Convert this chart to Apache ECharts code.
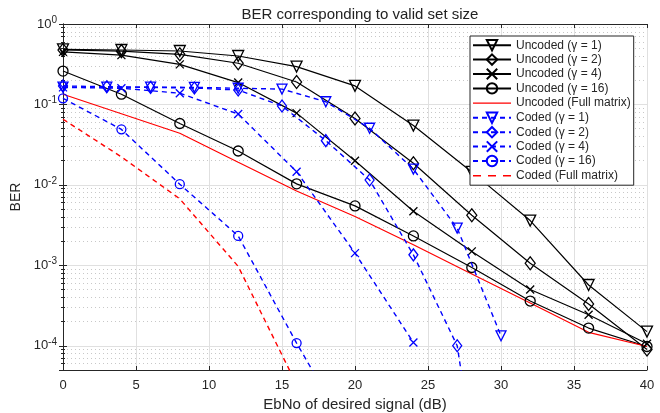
<!DOCTYPE html>
<html>
<head>
<meta charset="utf-8">
<script src="https://cdn.jsdelivr.net/npm/echarts@6/dist/echarts.min.js"></script>
<style>
  html, body { margin: 0; padding: 0; background: #fff; }
  #chart { width: 660px; height: 413px; }
</style>
</head>
<body>
<div id="chart"></div>
<script>
// x positions (dB)
var ebnoStep4 = [0, 4, 8, 12, 16, 20, 24, 28, 32, 36, 40];
var ebnoStep3 = [0, 3, 6, 9, 12, 15, 18, 21, 24, 27, 30];

// uncoded BER
var uncodedG1 = [0.485, 0.475, 0.462, 0.40, 0.295, 0.17, 0.0546, 0.0145, 0.0036, 5.7e-4, 1.5e-4];
var uncodedG2 = [0.475, 0.46, 0.42, 0.325, 0.19, 0.067, 0.0186, 0.0042, 0.00106, 3.3e-4, 9e-5];
var uncodedG4 = [0.45, 0.41, 0.315, 0.187, 0.078, 0.020, 0.0047, 0.00149, 5e-4, 2.43e-4, 1.06e-4];
var uncodedG16 = [0.26, 0.134, 0.058, 0.0264, 0.0103, 0.00548, 0.00232, 9.4e-4, 3.6e-4, 1.66e-4, 9.8e-5];
var uncodedFull = [0.134, 0.0767, 0.0439, 0.0191, 0.0084, 0.00404, 0.0018, 7.8e-4, 3.4e-4, 1.47e-4, 9.8e-5];

// coded BER
var codedG1 = [0.164, 0.164, 0.164, 0.163, 0.159, 0.155, 0.108, 0.0506, 0.0157, 0.0029, 1.33e-4];
var codedG2 = [0.17, 0.166, 0.163, 0.16, 0.151, 0.0958, 0.0355, 0.0115, 0.00135, 1.0e-4, 3e-8];
var codedG4 = [0.163, 0.159, 0.138, 0.076, 0.0146, 0.00142, 1.1e-4];
var codedG16 = [0.119, 0.049, 0.0102, 0.00232, 1.08e-4, 6e-6];
var codedFull = [0.0655, 0.0223, 0.0067, 0.00097, 3.3e-5];

var names = [
  'Uncoded (\u03b3 = 1)', 'Uncoded (\u03b3 = 2)', 'Uncoded (\u03b3 = 4)', 'Uncoded (\u03b3 = 16)',
  'Uncoded (Full matrix)',
  'Coded (\u03b3 = 1)', 'Coded (\u03b3 = 2)', 'Coded (\u03b3 = 4)', 'Coded (\u03b3 = 16)',
  'Coded (Full matrix)'
];

var crossPath = 'path://M0,0L10,10M10,0L0,10';
var dash = [5, 4];
var fontName = 'Liberation Sans';
var axisColor = '#262626';

// legend icons for the plain lines (tiny corner specks keep the box 38x13)
var specks = 'M0,0L0.01,0L0,0.01Z M38,13L37.99,13L38,12.99Z ';
var solidIcon = 'path://' + specks + 'M0,5.8L38,5.8L38,7.2L0,7.2Z';
var dashIcon = 'path://' + specks + 'M0,5.8L8,5.8L8,7.2L0,7.2Z M15,5.8L23,5.8L23,7.2L15,7.2Z M30,5.8L38,5.8L38,7.2L30,7.2Z';

function pts(xs, ys) {
  return ys.map(function (y, i) { return [xs[i], y]; });
}

function mk(name, xs, ys, color, dashed, symbol, size, rotate) {
  return {
    name: name,
    type: 'line',
    data: pts(xs, ys),
    symbol: symbol || 'none',
    symbolSize: size || 8,
    symbolRotate: rotate || 0,
    showSymbol: !!symbol,
    clip: true,
    z: dashed ? 3 : 2,
    lineStyle: { color: color, width: dashed ? 1.4 : 1.2, type: dashed ? dash : 'solid' },
    itemStyle: symbol ? { color: 'rgba(0,0,0,0)', borderColor: color, borderWidth: 1.3 } : { color: color },
    emphasis: { disabled: true },
    animation: false
  };
}

function yLabel(v) {
  var l = Math.log10(v);
  var e = Math.round(l);
  if (Math.abs(l - e) > 1e-6) return '';
  return '{b|10}{s|' + e + '}';
}

var legendData = names.map(function (n, i) {
  if (i === 4) return { name: n, icon: solidIcon, itemStyle: { color: '#ff0000', borderWidth: 0 } };
  if (i === 9) return { name: n, icon: dashIcon, itemStyle: { color: '#ff0000', borderWidth: 0 } };
  return { name: n };
});

var myChart = echarts.init(document.getElementById('chart'));

myChart.setOption({
  animation: false,
  title: {
    text: 'BER corresponding to valid set size',
    left: 355, top: 2, textAlign: 'center',
    textStyle: { fontFamily: fontName, fontSize: 15, fontWeight: 'normal', color: '#222' }
  },
  grid: { left: 63, right: 13, top: 24, bottom: 43, outerBoundsMode: 'none', containLabel: false },
  legend: {
    orient: 'vertical',
    left: 470, top: 36,
    padding: [3, 3, 3, 2],
    itemWidth: 38, itemHeight: 13, itemGap: 2,
    backgroundColor: '#fff',
    borderColor: '#262626', borderWidth: 1, borderRadius: 0,
    selectedMode: false,
    textStyle: { fontFamily: fontName, fontSize: 12, color: '#262626' },
    data: legendData
  },
  xAxis: [{
    type: 'value', min: 0, max: 40, interval: 5,
    name: 'EbNo of desired signal (dB)', nameLocation: 'middle', nameGap: 26,
    nameTextStyle: { fontFamily: fontName, fontSize: 15, color: axisColor },
    axisLine: { lineStyle: { color: axisColor, width: 1 } },
    axisTick: { inside: true, length: 4, lineStyle: { color: axisColor } },
    axisLabel: { margin: 9, fontFamily: fontName, fontSize: 13, color: axisColor },
    splitLine: { show: true, lineStyle: { color: '#e0e0e0', width: 1 } }
  }, {
    type: 'value', min: 0, max: 40, interval: 5, position: 'top',
    axisLine: { show: true, onZero: false, lineStyle: { color: axisColor, width: 1 } },
    axisTick: { inside: true, length: 4, lineStyle: { color: axisColor } },
    axisLabel: { show: false },
    splitLine: { show: false }
  }],
  yAxis: [{
    type: 'log', logBase: 10, min: 5e-5, max: 1,
    name: 'BER', nameLocation: 'middle', nameGap: 36,
    nameTextStyle: { fontFamily: fontName, fontSize: 14, color: axisColor },
    axisLine: { show: true, lineStyle: { color: axisColor, width: 1 } },
    axisTick: { show: true, inside: true, length: 4, lineStyle: { color: axisColor } },
    minorTick: { show: true, splitNumber: 9, length: 2, lineStyle: { color: axisColor } },
    axisLabel: {
      margin: 6, formatter: yLabel,
      rich: {
        b: { fontFamily: fontName, fontSize: 13, color: axisColor },
        s: { fontFamily: fontName, fontSize: 10, color: axisColor, padding: [0, 0, 8, 0] }
      }
    },
    splitLine: { show: true, lineStyle: { color: '#e0e0e0', width: 1 } },
    minorSplitLine: { show: true, lineStyle: { color: '#c8c8c8', width: 1, type: [1, 3] } }
  }, {
    type: 'log', logBase: 10, min: 5e-5, max: 1, position: 'right',
    axisLine: { show: true, lineStyle: { color: axisColor, width: 1 } },
    axisTick: { show: true, inside: true, length: 4, lineStyle: { color: axisColor } },
    minorTick: { show: true, splitNumber: 9, length: 2, lineStyle: { color: axisColor } },
    axisLabel: { show: false },
    splitLine: { show: false }
  }],
  series: [
    mk(names[0], ebnoStep4, uncodedG1, '#000', false, 'triangle', 11, 180),
    mk(names[1], ebnoStep4, uncodedG2, '#000', false, 'diamond', [10, 13]),
    mk(names[2], ebnoStep4, uncodedG4, '#000', false, crossPath, 8),
    mk(names[3], ebnoStep4, uncodedG16, '#000', false, 'circle', 10),
    mk(names[4], ebnoStep4, uncodedFull, '#ff0000', false, null),
    mk(names[5], ebnoStep3, codedG1, '#0000ff', true, 'triangle', 10, 180),
    mk(names[6], ebnoStep3, codedG2, '#0000ff', true, 'diamond', [9, 12]),
    mk(names[7], ebnoStep4, codedG4, '#0000ff', true, crossPath, 8),
    mk(names[8], ebnoStep4, codedG16, '#0000ff', true, 'circle', 9),
    mk(names[9], ebnoStep4, codedFull, '#ff0000', true, null)
  ]
});
</script>
</body>
</html>
